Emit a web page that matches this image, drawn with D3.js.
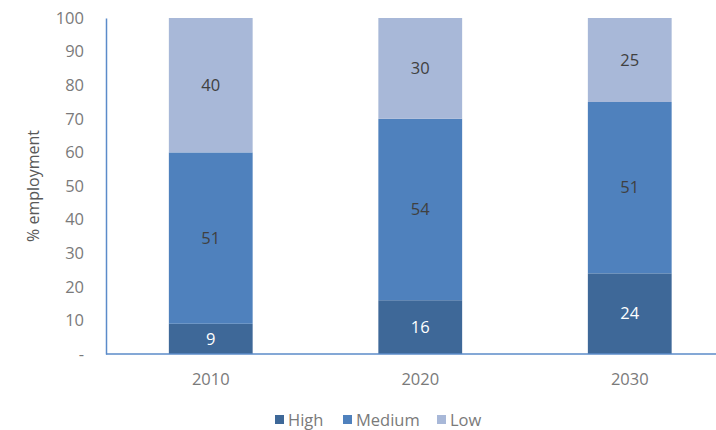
<!DOCTYPE html>
<html>
<head>
<meta charset="utf-8">
<script src="https://cdn.jsdelivr.net/npm/d3@7"></script>
<style>
  body { margin: 0; background: #fff; }
  svg { font-family: "Open Sans", "Noto Sans", sans-serif; }
</style>
</head>
<body>
<svg width="716" height="430"></svg>
<script>
const years = ['2010', '2020', '2030'];
const high = [9, 16, 24];
const medium = [51, 54, 51];
const low = [40, 30, 25];
const yTicks = [0, 10, 20, 30, 40, 50, 60, 70, 80, 90, 100];

const seriesNames = ['High', 'Medium', 'Low'];
const colors = { High: '#3e6898', Medium: '#4f81bd', Low: '#a8b8d8' };
const labelColors = { High: '#ffffff', Medium: '#404040', Low: '#404040' };

const rows = years.map((y, i) => ({ year: y, High: high[i], Medium: medium[i], Low: low[i] }));
const stacked = d3.stack().keys(seriesNames)(rows);

const plotLeft = 106, plotTop = 18, plotBottom = 354;
const fs = '16.5px';

const svg = d3.select('svg');

const xScale = d3.scaleBand()
  .domain(years)
  .range([plotLeft, plotLeft + 628.5])
  .paddingInner(0.6)
  .paddingOuter(0.3);

const yScale = d3.scaleLinear()
  .domain([0, 100])
  .range([plotBottom, plotTop]);

// bars
const layers = svg.append('g').selectAll('g')
  .data(stacked)
  .enter().append('g')
  .attr('fill', d => colors[d.key]);

layers.selectAll('rect')
  .data(d => d)
  .enter().append('rect')
  .attr('x', d => xScale(d.data.year))
  .attr('y', d => yScale(d[1]))
  .attr('width', xScale.bandwidth())
  .attr('height', d => yScale(d[0]) - yScale(d[1]));

// value labels
stacked.forEach(layer => {
  svg.append('g').selectAll('text')
    .data(layer)
    .enter().append('text')
    .attr('x', d => xScale(d.data.year) + xScale.bandwidth() / 2)
    .attr('y', d => yScale((d[0] + d[1]) / 2))
    .attr('dy', '0.35em')
    .attr('text-anchor', 'middle')
    .attr('font-size', fs)
    .attr('fill', labelColors[layer.key])
    .text(d => d[1] - d[0]);
});

// y axis
const yAxis = svg.append('g')
  .attr('transform', `translate(${plotLeft},0)`)
  .call(d3.axisLeft(yScale).tickValues(yTicks).tickSize(0).tickPadding(22)
    .tickFormat(d => d === 0 ? '-' : d));
yAxis.select('.domain').attr('stroke', '#5b8bc9').attr('stroke-width', 1.5);
yAxis.selectAll('text').attr('font-size', fs).attr('fill', '#7a7a7a')
  .attr('font-family', '"Open Sans", sans-serif');

// x axis
const xAxis = svg.append('g')
  .attr('transform', `translate(0,${plotBottom})`)
  .call(d3.axisBottom(xScale).tickSize(0).tickPadding(19));
xAxis.select('.domain').attr('d', `M${plotLeft},0H716`)
  .attr('stroke', '#5b8bc9').attr('stroke-width', 1.5);
xAxis.selectAll('text').attr('font-size', fs).attr('fill', '#7a7a7a')
  .attr('font-family', '"Open Sans", sans-serif');

// y title
svg.append('text')
  .attr('transform', 'rotate(-90)')
  .attr('x', -186)
  .attr('y', 39)
  .attr('text-anchor', 'middle')
  .attr('font-size', '16px')
  .attr('fill', '#595959')
  .text('% employment');

// legend
const legendX = [275, 343, 437];
const legend = svg.append('g').selectAll('g')
  .data(seriesNames)
  .enter().append('g')
  .attr('transform', (d, i) => `translate(${legendX[i]},420)`);
legend.append('rect')
  .attr('x', 0).attr('y', -5)
  .attr('width', 9).attr('height', 9)
  .attr('fill', d => colors[d]);
legend.append('text')
  .attr('x', 13).attr('y', 0)
  .attr('dy', '0.35em')
  .attr('font-size', fs)
  .attr('fill', '#7a7a7a')
  .text(d => d);
</script>
</body>
</html>
